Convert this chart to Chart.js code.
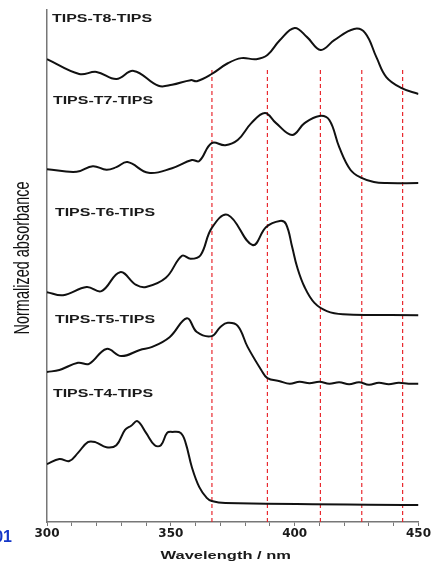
<!DOCTYPE html>
<html lang="en">
<head>
<meta charset="UTF-8">
<title>Normalized absorbance of TIPS-Tn-TIPS</title>
<script src="https://cdn.jsdelivr.net/npm/chart.js"></script>
<style>
  html, body { margin: 0; padding: 0; background: #fff; }
  #wrap { width: 432px; height: 562px; position: relative; }
</style>
</head>
<body>
<div id="wrap"><canvas id="spectra"></canvas></div>
<script>
// spectra, stacked with offsets (normalized absorbance, arbitrary units)
const seriesNames = ["TIPS-T8-TIPS", "TIPS-T7-TIPS", "TIPS-T6-TIPS", "TIPS-T5-TIPS", "TIPS-T4-TIPS"];

const t8Wave = [300, 313, 320, 328, 335, 345, 350.5, 358, 360.5, 366.5, 373, 378.5, 384.5, 389, 394, 400, 405, 410.5, 416, 424, 428.5, 433, 437, 443, 450];
const t8Abs  = [90.4, 87.5, 87.9, 86.5, 88.1, 85.2, 85.4, 86.3, 86.1, 87.5, 89.6, 90.6, 90.4, 91.2, 94.1, 96.5, 94.7, 92.2, 94.1, 96.3, 95.5, 90.8, 86.9, 84.8, 83.6];

const t7Wave = [300, 312, 318.5, 324, 328, 332.5, 341, 350.5, 358.5, 361.5, 366.5, 372, 377, 382.5, 388, 392.5, 399, 404, 410, 414, 418, 422.5, 427, 432, 437, 450];
const t7Abs  = [68.9, 68.4, 69.5, 68.8, 69.3, 70.3, 68.2, 69.1, 70.7, 70.5, 74.0, 73.6, 74.6, 77.9, 79.9, 77.9, 75.6, 77.9, 79.3, 78.5, 73.2, 68.8, 67.2, 66.4, 66.2, 66.2];

const t6Wave = [300, 306.5, 316, 322, 329.5, 336, 340, 348, 354.5, 358, 362, 366.5, 373, 383, 388.5, 394, 396.5, 399, 401, 404, 408, 413, 419.5, 450];
const t6Abs  = [44.9, 44.3, 45.9, 45.1, 48.8, 46.3, 45.9, 47.7, 52.0, 51.4, 52.1, 57.4, 60.0, 54.1, 57.6, 58.8, 58.2, 53.7, 49.8, 45.9, 42.8, 41.2, 40.6, 40.4];

const t5Wave = [300, 305, 312.5, 317, 324, 330, 337.5, 342.5, 349.5, 356.5, 360.5, 366.5, 370, 373, 377, 381, 386.5, 389, 394, 398, 402, 406, 410, 414, 418, 422, 426, 430, 434, 438, 442, 446, 450];
const t5Abs  = [29.3, 29.7, 31.1, 30.9, 33.8, 32.4, 33.6, 34.2, 36.1, 39.8, 37.1, 36.3, 38.1, 38.9, 38.3, 34.2, 29.7, 28.1, 27.5, 27.0, 27.4, 27.1, 27.4, 27.0, 27.3, 26.9, 27.3, 26.8, 27.2, 26.9, 27.2, 27.0, 27.0];

const t4Wave = [300, 305, 309, 312.5, 316.5, 319.5, 324, 328, 331.5, 334, 336.5, 340, 343.5, 346, 348.5, 350.5, 354, 356, 358.5, 361.5, 364.5, 366.5, 372, 450];
const t4Abs  = [11.3, 12.3, 11.9, 13.5, 15.6, 15.6, 14.6, 15.0, 18.0, 18.8, 19.7, 17.4, 15.0, 15.0, 17.4, 17.6, 17.4, 15.4, 10.7, 6.8, 4.7, 4.1, 3.7, 3.3];

// vertical guide lines (nm) and how high they reach
const guideNm = [366.6, 389, 410.4, 427.1, 443.6];
const guideTop = 88.7;

// where each curve's name sits (nm, abs units)
const labelNm  = [302, 302.4, 303.2, 303.2, 302.4];
const labelAbs = [97.7, 81.6, 59.8, 38.9, 24.4];

const allWaves = [t8Wave, t7Wave, t6Wave, t5Wave, t4Wave];
const allAbs = [t8Abs, t7Abs, t6Abs, t5Abs, t4Abs];

const curveSets = seriesNames.map((name, i) => ({
    label: name,
    data: allWaves[i].map((w, j) => ({ x: w, y: allAbs[i][j] })),
    borderColor: "#111",
    borderWidth: 2,
    pointRadius: 0,
    tension: 0.4,
    fill: false,
    order: 0
}));

const guideSets = guideNm.map(nm => ({
    label: "guide " + nm,
    data: [{ x: nm, y: 0 }, { x: nm, y: guideTop }],
    borderColor: "rgba(232, 30, 36, 0.95)",
    borderWidth: 1.2,
    borderDash: [4, 3],
    pointRadius: 0,
    fill: false,
    order: 1
}));

const textPlugin = {
    id: "textPlugin",
    afterDraw(chart) {
        const ctx = chart.ctx;
        const xs = chart.scales.x;
        const ys = chart.scales.y;
        ctx.save();

        // curve names (the figure is stretched sideways)
        ctx.fillStyle = "#1a1a1a";
        ctx.font = 'bold 11px "Liberation Sans", Arial, sans-serif';
        ctx.textAlign = "left";
        ctx.textBaseline = "alphabetic";
        seriesNames.forEach((name, i) => {
            ctx.save();
            ctx.translate(xs.getPixelForValue(labelNm[i]), ys.getPixelForValue(labelAbs[i]));
            ctx.scale(1.45, 1);
            ctx.fillText(name, 0, 0);
            ctx.restore();
        });

        // y title
        ctx.save();
        ctx.translate(23, 258);
        ctx.rotate(-Math.PI / 2);
        ctx.scale(1, 1.5);
        ctx.font = '14.5px "Liberation Sans", Arial, sans-serif';
        ctx.textAlign = "center";
        ctx.textBaseline = "middle";
        ctx.fillStyle = "#111";
        ctx.fillText("Normalized absorbance", 0, 0);
        ctx.restore();

        // x title
        ctx.save();
        ctx.translate((xs.left + xs.right) / 2 - 7, 559);
        ctx.scale(1.5, 1);
        ctx.font = 'bold 11px "Liberation Sans", Arial, sans-serif';
        ctx.textAlign = "center";
        ctx.fillStyle = "#1a1a1a";
        ctx.fillText("Wavelength / nm", 0, 0);
        ctx.restore();

        // stray panel mark, cut at the left edge
        ctx.font = 'bold 16px "Liberation Sans", Arial, sans-serif';
        ctx.textAlign = "right";
        ctx.fillStyle = "#1537c8";
        ctx.fillText("01", 12, 542);

        ctx.restore();
    }
};

new Chart(document.getElementById("spectra"), {
    type: "line",
    data: { datasets: [...curveSets, ...guideSets] },
    options: {
        responsive: true,
        maintainAspectRatio: false,
        animation: false,
        layout: { padding: { top: 10, right: 11, bottom: 0, left: 0 }, autoPadding: false },
        plugins: {
            legend: { display: false },
            tooltip: { enabled: false }
        },
        scales: {
            x: {
                type: "linear",
                min: 300,
                max: 450,
                ticks: {
                    stepSize: 10,
                    autoSkip: false,
                    maxRotation: 0,
                    padding: 1,
                    color: "#1a1a1a",
                    font: { family: '"DejaVu Sans", sans-serif', size: 12, weight: "bold" },
                    callback: v => (v % 50 === 0 ? String(v) : "")
                },
                grid: { drawOnChartArea: false, drawTicks: true, tickLength: 4, color: "#777" },
                border: { display: true, color: "#777", width: 1.5 },
                afterFit: s => { s.height = 40; }
            },
            y: {
                min: 0,
                max: 100,
                ticks: { display: false },
                grid: { display: false },
                border: { display: true, color: "#777", width: 1.5 },
                afterFit: s => { s.width = 47; }
            }
        }
    },
    plugins: [textPlugin]
});
</script>
</body>
</html>
